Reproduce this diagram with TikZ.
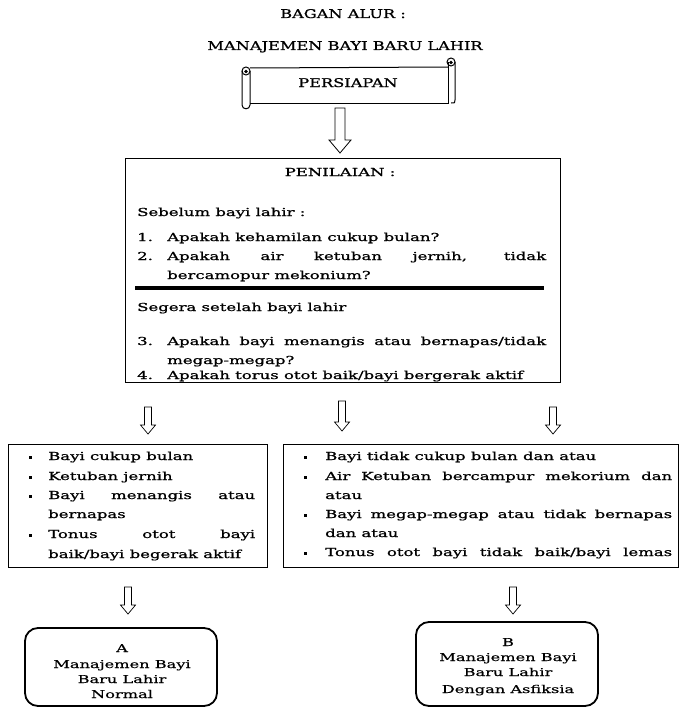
\documentclass[tikz,border=0pt]{standalone}
\usepackage{fontspec}
\setmainfont{DejaVu Serif}
\newfontfamily\bodyfam{DejaVu Serif}[FakeStretch=1.5,FakeBold=1]
\newfontfamily\titlefam{DejaVu Serif}[FakeStretch=1.35,FakeBold=1]
\newfontfamily\endfam{DejaVu Serif}[FakeStretch=1.5,FakeBold=0.5]
\usetikzlibrary{calc}
\newcommand{\bodyf}{\bodyfam\fontsize{11}{13}\selectfont}
\newcommand{\titlef}{\titlefam\fontsize{12}{14}\selectfont}
\newcommand{\smallf}{\endfam\fontsize{10.8}{13}\selectfont}
\newcommand{\jl}[2]{\makebox[#1][s]{#2}}
\begin{document}
\begin{tikzpicture}[x=1pt,y=-1pt,
  every node/.style={inner sep=0pt},
  tl/.style={anchor=base west, font=\bodyf},
  tc/.style={anchor=base, font=\bodyf},
  frame/.style={draw, line width=1pt, minimum width=#1},
  endbox/.style={draw, line width=1.8pt, rounded corners=13pt},
  bigarrow/.style={draw, line width=0.8pt, fill=white,
    to path={let \p1=(\tikztostart), \p2=(\tikztotarget) in
      (\x1-5pt,\y1) -- (\x1+5pt,\y1) -- (\x1+5pt,\y2+13pt) -- (\x1+11pt,\y2+13pt)
      -- (\x1,\y2) -- (\x1-11pt,\y2+13pt) -- (\x1-5pt,\y2+13pt) -- cycle}},
  smallarrow/.style={draw, line width=0.7pt, fill=white,
    to path={let \p1=(\tikztostart), \p2=(\tikztotarget) in
      (\x1-3.5pt,\y1) -- (\x1+3.5pt,\y1) -- (\x1+3.5pt,\y2+9pt) -- (\x1+7.5pt,\y2+9pt)
      -- (\x1,\y2) -- (\x1-7.5pt,\y2+9pt) -- (\x1-3.5pt,\y2+9pt) -- cycle}},
  bul/.style={fill=black, minimum size=3pt, inner sep=0pt}
]
\useasboundingbox (0,0) rectangle (681,709);

% titles
\node[anchor=base, font=\titlef] (t1) at (343,18) {BAGAN ALUR :};
\node[anchor=base, font=\titlef] (t2) at (345,50) {MANAJEMEN BAYI BARU LAHIR};

% scroll
\begin{scope}[line width=1pt]
  \draw (250,68) -- (448,67);
  \draw (448,62) -- (448,103) -- (250,103);
  \draw (455,62) -- (455,100) .. controls (455,103) .. (451,103);
  \draw (451,62) circle (4pt);
  \draw (451,62.5) circle (1.2pt);
  \draw (242,71) -- (242,105) .. controls (242,110) and (250,110) .. (250,105) -- (250,71);
  \draw (246,71) circle (4pt);
  \draw (246,71.5) circle (1.2pt);
\end{scope}
\node[anchor=base, font=\titlef] (pers) at (348,87) {PERSIAPAN};

% assessment box
\node[frame=435pt, minimum height=224pt] (pen) at (342.5,270) {};
\node[tc] (penh) at (340,176) {PENILAIAN :};
\node[tl] (seb) at (137,216) {Sebelum bayi lahir :};
\node[tl] (n1) at (137,241) {1.};
\node[tl] (q1) at (167,241) {Apakah kehamilan cukup bulan?};
\node[tl] (n2) at (137,260) {2.};
\node[tl] (q2) at (167,260) {\jl{379pt}{Apakah air ketuban jernih, tidak}};
\node[tl] (q2b) at (167,279) {bercamopur mekonium?};
\draw[line width=3.5pt] (135,288) -- (544,288);
\node[tl] (seg) at (137,311) {Segera setelah bayi lahir};
\node[tl] (n3) at (137,345) {3.};
\node[tl] (q3) at (167,345) {\jl{379pt}{Apakah bayi menangis atau bernapas/tidak}};
\node[tl] (q3b) at (167,364) {megap-megap?};
\node[tl] (n4) at (137,379) {4.};
\node[tl] (q4) at (167,379) {Apakah torus otot baik/bayi bergerak aktif};

% arrow 1
\coordinate (a1s) at (340,108);
\coordinate (a1e) at (340,153);
\draw[bigarrow] (a1s) to (a1e);

% branch arrows
\coordinate (a2s) at (148,407);
\coordinate (a2e) at (148,434);
\coordinate (a3s) at (342,401);
\coordinate (a3e) at (342,431);
\coordinate (a4s) at (553,407);
\coordinate (a4e) at (553,434);
\draw[smallarrow] (a2s) to (a2e);
\draw[smallarrow] (a3s) to (a3e);
\draw[smallarrow] (a4s) to (a4e);

% left box
\node[frame=259pt, minimum height=123pt] (lb) at (137.5,505.5) {};
\foreach \y in {457,477,496,535} \node[bul] at (30,\y) {};
\node[tl] (l1) at (48,460) {Bayi cukup bulan};
\node[tl] (l2) at (48,480) {Ketuban jernih};
\node[tl] (l3) at (48,499) {\jl{207pt}{Bayi menangis atau}};
\node[tl] (l3b) at (48,518) {bernapas};
\node[tl] (l4) at (48,538) {\jl{207pt}{Tonus otot bayi}};
\node[tl] (l4b) at (48,558) {baik/bayi begerak aktif};

% right box
\node[frame=395pt, minimum height=123pt] (rb) at (480.5,505.5) {};
\foreach \y in {457,477,515,553} \node[bul] at (305,\y) {};
\node[tl] (r1) at (325,460) {Bayi tidak cukup bulan dan atau};
\node[tl] (r2) at (325,480) {\jl{347pt}{Air Ketuban bercampur mekorium dan}};
\node[tl] (r2b) at (325,499) {atau};
\node[tl] (r3) at (325,518) {\jl{347pt}{Bayi megap-megap atau tidak bernapas}};
\node[tl] (r3b) at (325,537) {dan atau};
\node[tl] (r4) at (325,556) {\jl{347pt}{Tonus otot bayi tidak baik/bayi lemas}};

% final arrows
\coordinate (a5s) at (128,587);
\coordinate (a5e) at (128,614);
\coordinate (a6s) at (513,587);
\coordinate (a6e) at (513,614);
\draw[smallarrow] (a5s) to (a5e);
\draw[smallarrow] (a6s) to (a6e);

% end boxes
\node[endbox, minimum width=192pt, minimum height=78pt] (ba) at (121,667) {};
\node[anchor=base, font=\smallf] (ta) at (122,652) {A};
\node[anchor=base, font=\smallf] (ta2) at (122,668) {Manajemen Bayi};
\node[anchor=base, font=\smallf] (ta3) at (122,683) {Baru Lahir};
\node[anchor=base, font=\smallf] (ta4) at (122,698) {Normal};

\node[endbox, minimum width=182pt, minimum height=84pt] (bb) at (507,664) {};
\node[anchor=base, font=\smallf] (tb) at (508,646) {B};
\node[anchor=base, font=\smallf] (tb2) at (508,661) {Manajemen Bayi};
\node[anchor=base, font=\smallf] (tb3) at (508,676) {Baru Lahir};
\node[anchor=base, font=\smallf] (tb4) at (508,693) {Dengan Asfiksia};
\end{tikzpicture}
\end{document}
